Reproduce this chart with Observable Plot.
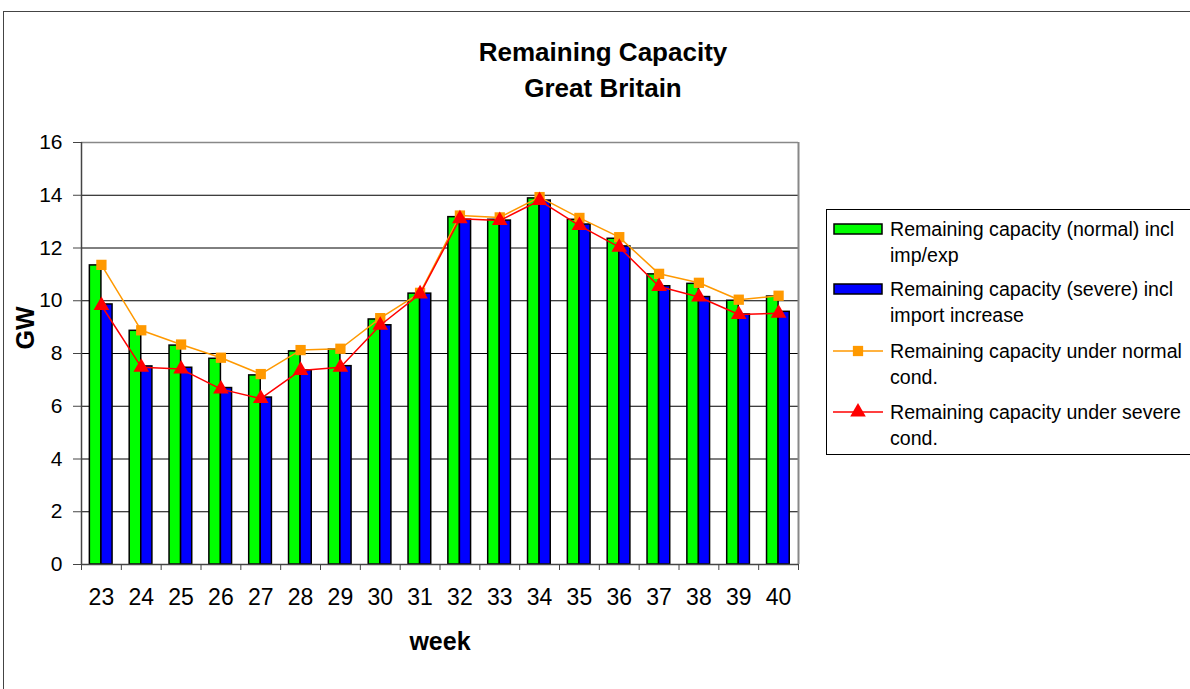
<!DOCTYPE html>
<html>
<head>
<meta charset="utf-8">
<script src="https://cdn.jsdelivr.net/npm/d3@7"></script>
<script src="https://cdn.jsdelivr.net/npm/@observablehq/plot@0.6"></script>
<style>
  body { margin: 0; background: #fff; font-family: "Liberation Sans", Arial, sans-serif; }
  #wrap { position: relative; width: 1190px; height: 689px; overflow: hidden; background: #fff; }
  #frame { position: absolute; left: 3px; top: 11px; width: 1300px; height: 800px; border: 1px solid #444; box-sizing: border-box; }
  #title { position: absolute; left: 403px; top: 34px; width: 400px; text-align: center; font-weight: bold; font-size: 26px; line-height: 36px; color: #000; }
  #chart { position: absolute; left: 0; top: 120px; }
  #legend { position: absolute; left: 826px; top: 209px; width: 420px; height: 246px; border: 1px solid #000; box-sizing: border-box; background: #fff; }
  .entry { position: absolute; left: 6px; width: 420px; }
  .entry svg { position: absolute; left: 0; top: 0; }
  .entry .lbl { position: absolute; left: 57px; top: 0; font-size: 19.6px; line-height: 26px; color: #000; white-space: nowrap; }
</style>
</head>
<body>
<div id="wrap">
  <div id="frame"></div>
  <div id="title"><div>Remaining Capacity</div><div>Great Britain</div></div>
  <div id="chart"></div>
  <div id="legend"></div>
</div>
<script>
// ---- data ----
const weeks = [23, 24, 25, 26, 27, 28, 29, 30, 31, 32, 33, 34, 35, 36, 37, 38, 39, 40];
const normalBars = [11.34, 8.86, 8.30, 7.80, 7.17, 8.08, 8.15, 9.29, 10.27, 13.17, 13.07, 13.88, 13.07, 12.35, 11.00, 10.64, 10.00, 10.16];
const severeBars = [9.86, 7.51, 7.46, 6.69, 6.33, 7.36, 7.52, 9.07, 10.27, 13.07, 13.04, 13.80, 12.89, 12.06, 10.55, 10.14, 9.48, 9.58];
const normalLine = [11.36, 8.88, 8.34, 7.84, 7.22, 8.13, 8.18, 9.34, 10.30, 13.23, 13.16, 13.93, 13.14, 12.41, 11.02, 10.68, 10.04, 10.19];
const severeLine = [9.82, 7.48, 7.41, 6.65, 6.29, 7.36, 7.48, 9.07, 10.26, 13.11, 13.04, 13.80, 12.85, 12.03, 10.54, 10.14, 9.48, 9.53];
const yTicks = [0, 2, 4, 6, 8, 10, 12, 14, 16];
const seriesNames = [
  "Remaining capacity (normal) incl imp/exp",
  "Remaining capacity (severe) incl import increase",
  "Remaining capacity under normal cond.",
  "Remaining capacity under severe cond."
];
const legendLines = [
  ["Remaining capacity (normal) incl", "imp/exp"],
  ["Remaining capacity (severe) incl", "import increase"],
  ["Remaining capacity under normal", "cond."],
  ["Remaining capacity under severe", "cond."]
];
const xLabel = "week";
const yLabel = "GW";

// ---- build tables ----
const nb = weeks.map((w, i) => ({week: w, value: normalBars[i]}));
const sb = weeks.map((w, i) => ({week: w, value: severeBars[i]}));
const nl = weeks.map((w, i) => ({week: w, value: normalLine[i]}));
const sl = weeks.map((w, i) => ({week: w, value: severeLine[i]}));
const lo = weeks[0] - 0.5, hi = weeks[weeks.length - 1] + 0.5;
const bounds = d3.range(lo, hi + 0.01, 1);
const grid = yTicks.filter(v => v > 0 && v < 16);

const COLORS = {green: "#00ff00", blue: "#0000ff", orange: "#ff9900", red: "#ff0000"};

const chart = Plot.plot({
  width: 820,
  height: 569,
  marginLeft: 81,
  marginRight: 22,
  marginTop: 22,
  marginBottom: 125,
  style: {fontFamily: '"Liberation Sans", Arial, sans-serif', color: "#000", background: "transparent", overflow: "visible"},
  x: {type: "linear", domain: [lo, hi], axis: null},
  y: {domain: [0, 16], axis: null},
  marks: [
    Plot.ruleY(grid, {stroke: "#000", strokeWidth: 1}),
    Plot.ruleY([16], {stroke: "#888", strokeWidth: 1.5}),
    Plot.ruleX([hi], {stroke: "#888", strokeWidth: 2}),
    Plot.rectY(nb, {x1: d => d.week - 0.29, x2: d => d.week, y: "value", fill: COLORS.green, stroke: "#000", strokeWidth: 1.5}),
    Plot.rectY(sb, {x1: d => d.week, x2: d => d.week + 0.28, y: "value", fill: COLORS.blue, stroke: "#000", strokeWidth: 1.5}),
    Plot.ruleX([lo], {stroke: "#444", strokeWidth: 1.5}),
    Plot.ruleY([0], {stroke: "#444", strokeWidth: 1.5}),
    Plot.axisY({ticks: yTicks, tickSize: 8, tickPadding: 11, fontSize: 21, stroke: "#444", label: null, anchor: "left"}),
    Plot.axisX({ticks: bounds, tickSize: 6, tickFormat: () => "", stroke: "#444", label: null, anchor: "bottom"}),
    Plot.axisX({ticks: weeks, tickSize: 0, tickPadding: 24, fontSize: 23, tickFormat: d => String(d), label: null, anchor: "bottom"}),
    Plot.line(nl, {x: "week", y: "value", stroke: COLORS.orange, strokeWidth: 1.5}),
    Plot.dot(nl, {x: "week", y: "value", symbol: "square", r: 5.8, fill: COLORS.orange, stroke: "none"}),
    Plot.line(sl, {x: "week", y: "value", stroke: COLORS.red, strokeWidth: 1.5}),
    Plot.dot(sl, {x: "week", y: "value", symbol: "triangle", r: 5.8, fill: COLORS.red, stroke: "none"}),
    Plot.text([xLabel], {frameAnchor: "bottom", dy: 85, fontSize: 25, fontWeight: "bold", fill: "#000"}),
    Plot.text([yLabel], {frameAnchor: "left", dx: -56, dy: -4, rotate: -90, fontSize: 25, fontWeight: "bold", fill: "#000"})
  ]
});
document.getElementById("chart").appendChild(chart);

// ---- legend ----
const legendTops = [6, 66, 128, 189];
const legend = d3.select("#legend");
const kinds = [
  {type: "rect", fill: COLORS.green},
  {type: "rect", fill: COLORS.blue},
  {type: "line", color: COLORS.orange, symbol: "square"},
  {type: "line", color: COLORS.red, symbol: "triangle"}
];
legendLines.forEach((lines, i) => {
  const e = legend.append("div").attr("class", "entry").style("top", legendTops[i] + "px").attr("title", seriesNames[i]);
  const s = e.append("svg").attr("width", 56).attr("height", 26);
  const k = kinds[i];
  if (k.type === "rect") {
    s.append("rect").attr("x", 1).attr("y", 8).attr("width", 48).attr("height", 10)
      .attr("fill", k.fill).attr("stroke", "#000").attr("stroke-width", 1.5);
  } else {
    s.append("line").attr("x1", 0).attr("x2", 50).attr("y1", 13).attr("y2", 13)
      .attr("stroke", k.color).attr("stroke-width", 1.5);
    const sym = k.symbol === "square" ? d3.symbolSquare : d3.symbolTriangle;
    s.append("path").attr("d", d3.symbol(sym, 5.8 * 5.8 * Math.PI)()).attr("transform", "translate(25,13)").attr("fill", k.color);
  }
  const t = e.append("div").attr("class", "lbl");
  lines.forEach(l => t.append("div").text(l));
});
</script>
</body>
</html>
